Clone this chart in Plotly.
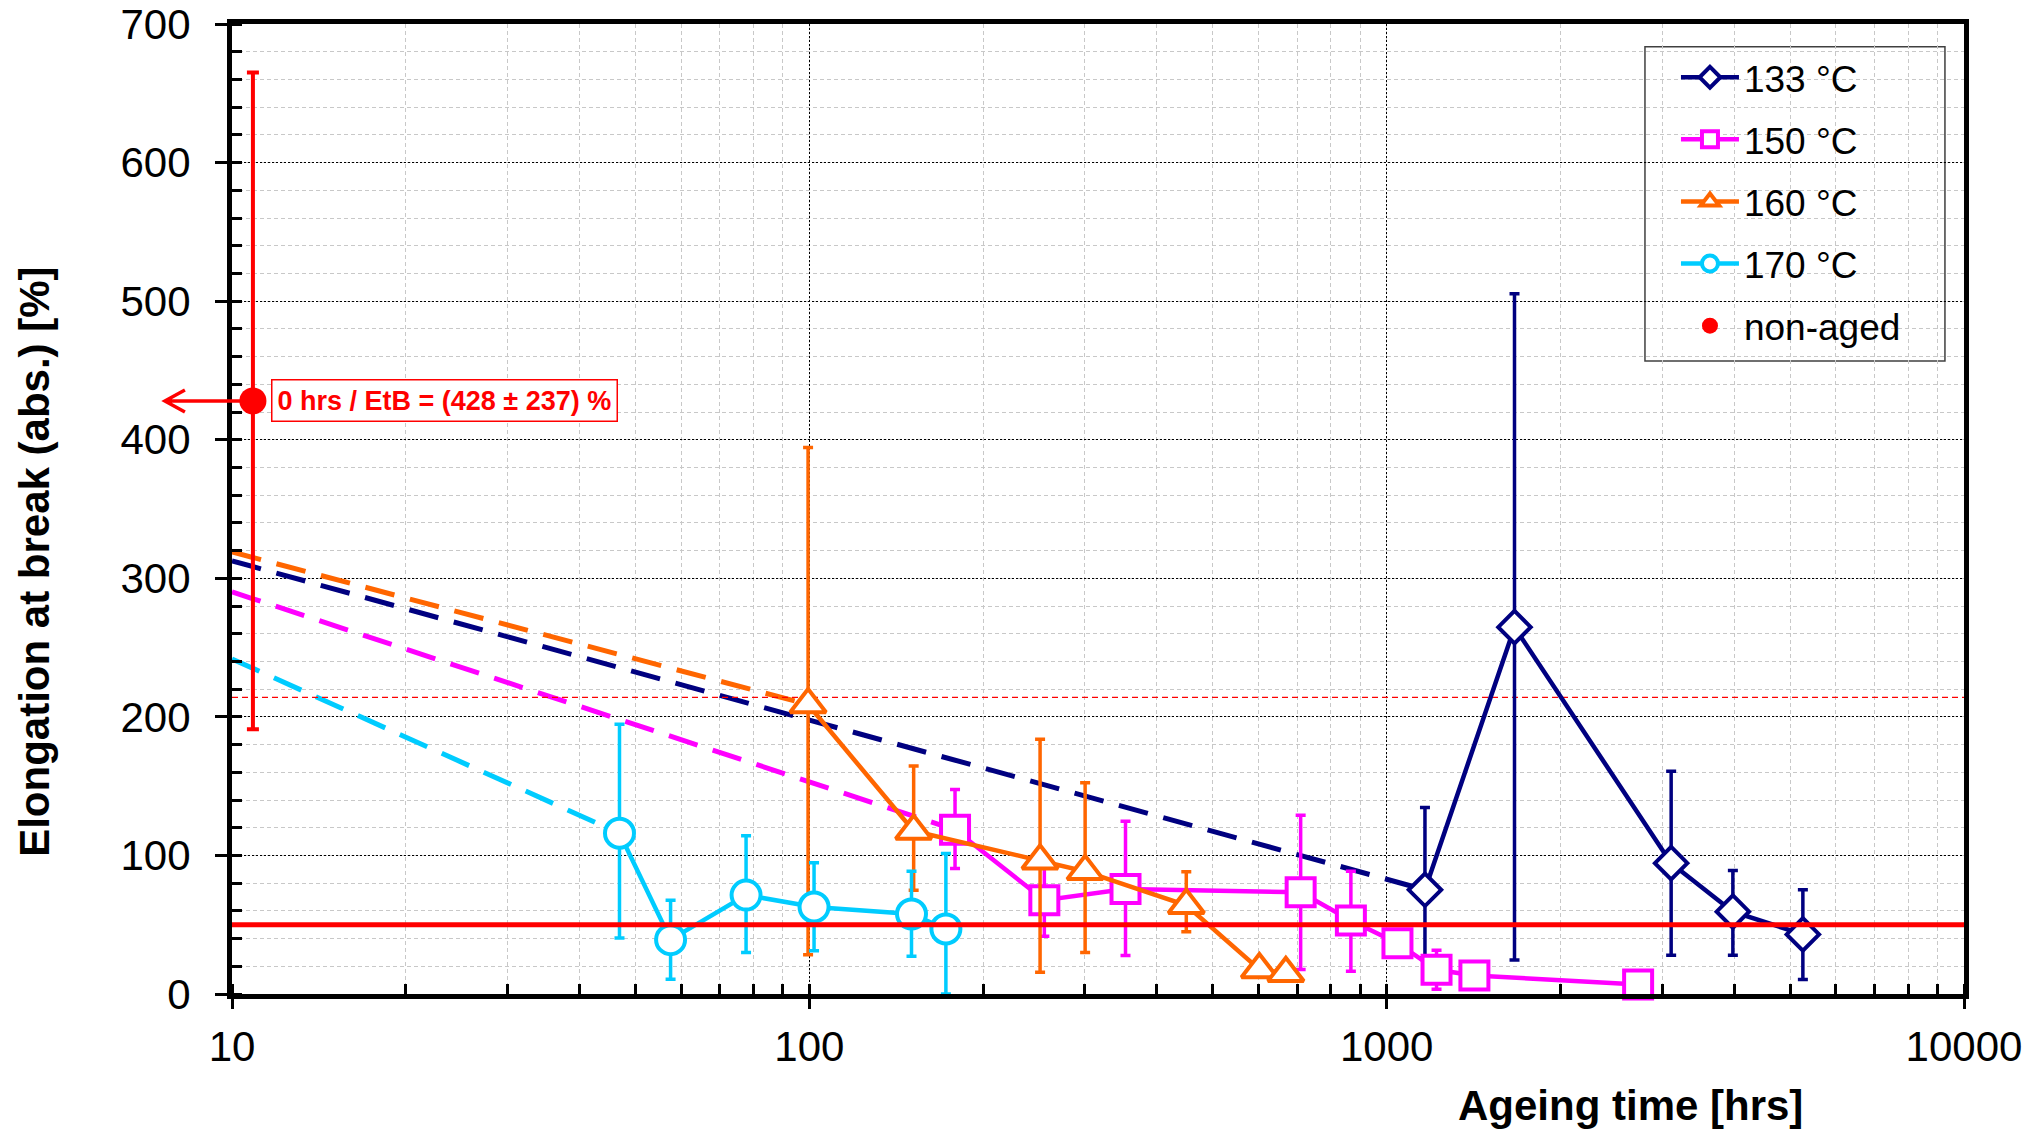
import math
import plotly.graph_objects as go

# ---------------- data ----------------
x133 = [1165, 1665, 3110, 3978, 5259]
y133 = [75.2, 264.7, 94.4, 59.4, 43.0]
e133_plus = [59.4, 240.6, 66.4, 29.7, 32.2]
e133_minus = [49.2, 240.2, 66.5, 31.5, 32.5]

x150 = [178.8, 255.3, 352.9, 709.6, 867, 1044, 1220, 1419, 2726]
y150 = [118.5, 67.7, 75.7, 73.4, 53.1, 36.7, 17.5, 13.3, 6.9]
e150_plus = [29.0, 26.0, 49.0, 55.6, 35.4, 9.0, 14.0, 8.0, 3.0]
e150_minus = [28.0, 26.0, 47.9, 55.7, 36.7, 9.0, 14.0, 8.0, 3.0]

x160 = [99.5, 151.6, 251, 300.4, 449.7, 601.9, 668.9]
y160 = [208.9, 117.6, 96.2, 88.5, 64.0, 17.7, 15.0]
e160_plus = [185.5, 47.0, 87.6, 63.9, 24.2, 4.0, 4.0]
e160_minus = [180.6, 42.8, 80.5, 58.5, 19.1, 4.0, 4.0]

x170 = [46.9, 57.5, 77.7, 101.9, 150.3, 172.4]
y170 = [116.0, 39.2, 71.4, 62.8, 57.7, 46.9]
e170_plus = [78.6, 28.5, 42.8, 32.0, 30.8, 54.5]
e170_minus = [75.5, 28.6, 41.4, 31.6, 30.5, 46.9]

# dashed trend lines (start, end)
trend133_x = [10, 1165]
trend133_y = [312.6, 75.2]
trend150_x = [10, 178.8]
trend150_y = [290.2, 118.5]
trend160_x = [10, 99.5]
trend160_y = [319.0, 208.9]
trend170_x = [10, 46.9]
trend170_y = [241.8, 116.0]

# non-aged reference
x_nonaged = [10.87]
y_nonaged = [428]
e_nonaged = [237]

# horizontal reference lines
limit_x = [10, 10000]
limit_abs = 50        # absolute criterion
limit_half = 214      # 50 % of initial value

x_tick_vals = [10, 100, 1000, 10000]
x_tick_text = ["10", "100", "1000", "10000"]
y_tick_vals = [0, 100, 200, 300, 400, 500, 600, 700]

C133 = "#000080"
C150 = "#FF00FF"
C160 = "#FF6600"
C170 = "#00CCFF"
CRED = "#FF0000"

FONT = "Liberation Sans, Arial, sans-serif"

fig = go.Figure()

# trend lines
for tx, ty, c in [(trend160_x, trend160_y, C160), (trend133_x, trend133_y, C133),
                  (trend150_x, trend150_y, C150), (trend170_x, trend170_y, C170)]:
    fig.add_trace(go.Scatter(x=tx, y=ty, mode="lines", showlegend=False, hoverinfo="skip",
                             line=dict(color=c, width=5, dash="30px,16px")))

# 50 % line (thin dashed)
fig.add_trace(go.Scatter(x=limit_x, y=[limit_half] * 2, mode="lines", showlegend=False,
                         hoverinfo="skip", line=dict(color=CRED, width=1.2, dash="6px,4px")))


def series(name, xs, ys, ep, em, color, symbol, size, group):
    fig.add_trace(go.Scatter(
        x=xs, y=ys, mode="lines+markers", name=name, legendgroup=group,
        line=dict(color=color, width=4.5),
        marker=dict(symbol=symbol, size=size, color="white",
                    line=dict(color=color, width=4)),
        error_y=dict(type="data", symmetric=False, array=ep, arrayminus=em,
                     color=color, thickness=3.5, width=5),
        cliponaxis=False,
    ))


series("133 °C", x133, y133, e133_plus, e133_minus, C133, "diamond", 25, "a")
series("150 °C", x150, y150, e150_plus, e150_minus, C150, "square", 28, "b")
series("160 °C", x160, y160, e160_plus, e160_minus, C160, "triangle-up", 31, "c")
series("170 °C", x170, y170, e170_plus, e170_minus, C170, "circle", 29, "d")

# non-aged
fig.add_trace(go.Scatter(
    x=x_nonaged, y=y_nonaged, mode="markers", name="non-aged", legendgroup="e",
    marker=dict(symbol="circle", size=27, color=CRED),
    error_y=dict(type="data", array=e_nonaged, color=CRED, thickness=4, width=6),
    cliponaxis=False,
))

# absolute criterion line (drawn on top)
fig.add_trace(go.Scatter(x=limit_x, y=[limit_abs] * 2, mode="lines", showlegend=False,
                         hoverinfo="skip", line=dict(color=CRED, width=5)))

# arrow from the non-aged point to the left
xp = (math.log10(x_nonaged[0]) - 1) / 3
yp = y_nonaged[0] / 700
fig.add_shape(type="path", xref="paper", yref="paper", xsizemode="pixel", ysizemode="pixel",
              xanchor=xp, yanchor=yp,
              path="M0,0 L-88,0 M-68,-11 L-88,0 L-68,11",
              line=dict(color=CRED, width=3.5))

# legend frame (white box hiding the grid, thin dark border)
LEG_X0, LEG_X1, LEG_Y0, LEG_Y1 = 0.8158, 0.989, 0.6526, 0.9766
fig.add_shape(type="rect", xref="x domain", yref="y domain", layer="below",
              x0=LEG_X0, x1=LEG_X1, y0=LEG_Y0, y1=LEG_Y1,
              fillcolor="white", line=dict(color="#404040", width=1.5))

grid_major = dict(showgrid=True, gridcolor="#000000", gridwidth=1, griddash="2px,2px")

fig.update_layout(
    width=2044, height=1129,
    margin=dict(l=232, r=80, t=24, b=135, autoexpand=False),
    plot_bgcolor="white", paper_bgcolor="white",
    font=dict(family=FONT, color="black"),
    showlegend=True,
    legend=dict(x=LEG_X0, y=LEG_Y1, xanchor="left", yanchor="top",
                font=dict(size=37, family=FONT, color="black"),
                bgcolor="rgba(0,0,0,0)", borderwidth=0,
                itemwidth=58, indentation=31, tracegroupgap=11),
    xaxis=dict(type="log", range=[1, 4], tickvals=x_tick_vals, ticktext=x_tick_text,
               automargin=False,
               ticks="outside", ticklen=10, tickwidth=3, tickcolor="black",
               showline=True, linewidth=5, linecolor="black", mirror=True,
               zeroline=False, tickfont=dict(size=42, family=FONT),
               ticklabelstandoff=2,
               minor=dict(dtick="D1", ticks="inside", ticklen=10, tickwidth=2.5,
                          tickcolor="black", showgrid=True, gridcolor="#c8c8c8",
                          gridwidth=1, griddash="4px,3px"),
               **grid_major),
    yaxis=dict(range=[0, 700], tickvals=y_tick_vals, automargin=False,
               ticks="outside", ticklen=12, tickwidth=3, tickcolor="black",
               showline=True, linewidth=5, linecolor="black", mirror=True,
               zeroline=False, tickfont=dict(size=42, family=FONT),
               ticklabelstandoff=16,
               minor=dict(dtick=20, ticks="inside", ticklen=10, tickwidth=2.5,
                          tickcolor="black", showgrid=True, gridcolor="#c8c8c8",
                          gridwidth=1, griddash="4px,3px"),
               **grid_major),
)

fig.add_annotation(text="<b>Ageing time [hrs]</b>", xref="paper", yref="paper",
                   x=0.8077, y=-0.1145, xanchor="center", yanchor="middle",
                   showarrow=False, font=dict(size=42, family=FONT, color="black"))
fig.add_annotation(text="<b>Elongation at break (abs.) [%]</b>", xref="paper", yref="paper",
                   x=-0.1137, y=0.4456, xanchor="center", yanchor="middle", textangle=-90,
                   showarrow=False, font=dict(size=42, family=FONT, color="black"))
fig.add_annotation(text="<b>0 hrs / EtB = (428 ± 237) %</b>", xref="x", yref="y",
                   x=math.log10(x_nonaged[0]), y=y_nonaged[0], xanchor="left", yanchor="middle",
                   xshift=18, showarrow=False, bgcolor="white", bordercolor=CRED,
                   borderwidth=1.5, borderpad=5,
                   font=dict(size=27, family=FONT, color=CRED))

fig.write_html("out.html")
